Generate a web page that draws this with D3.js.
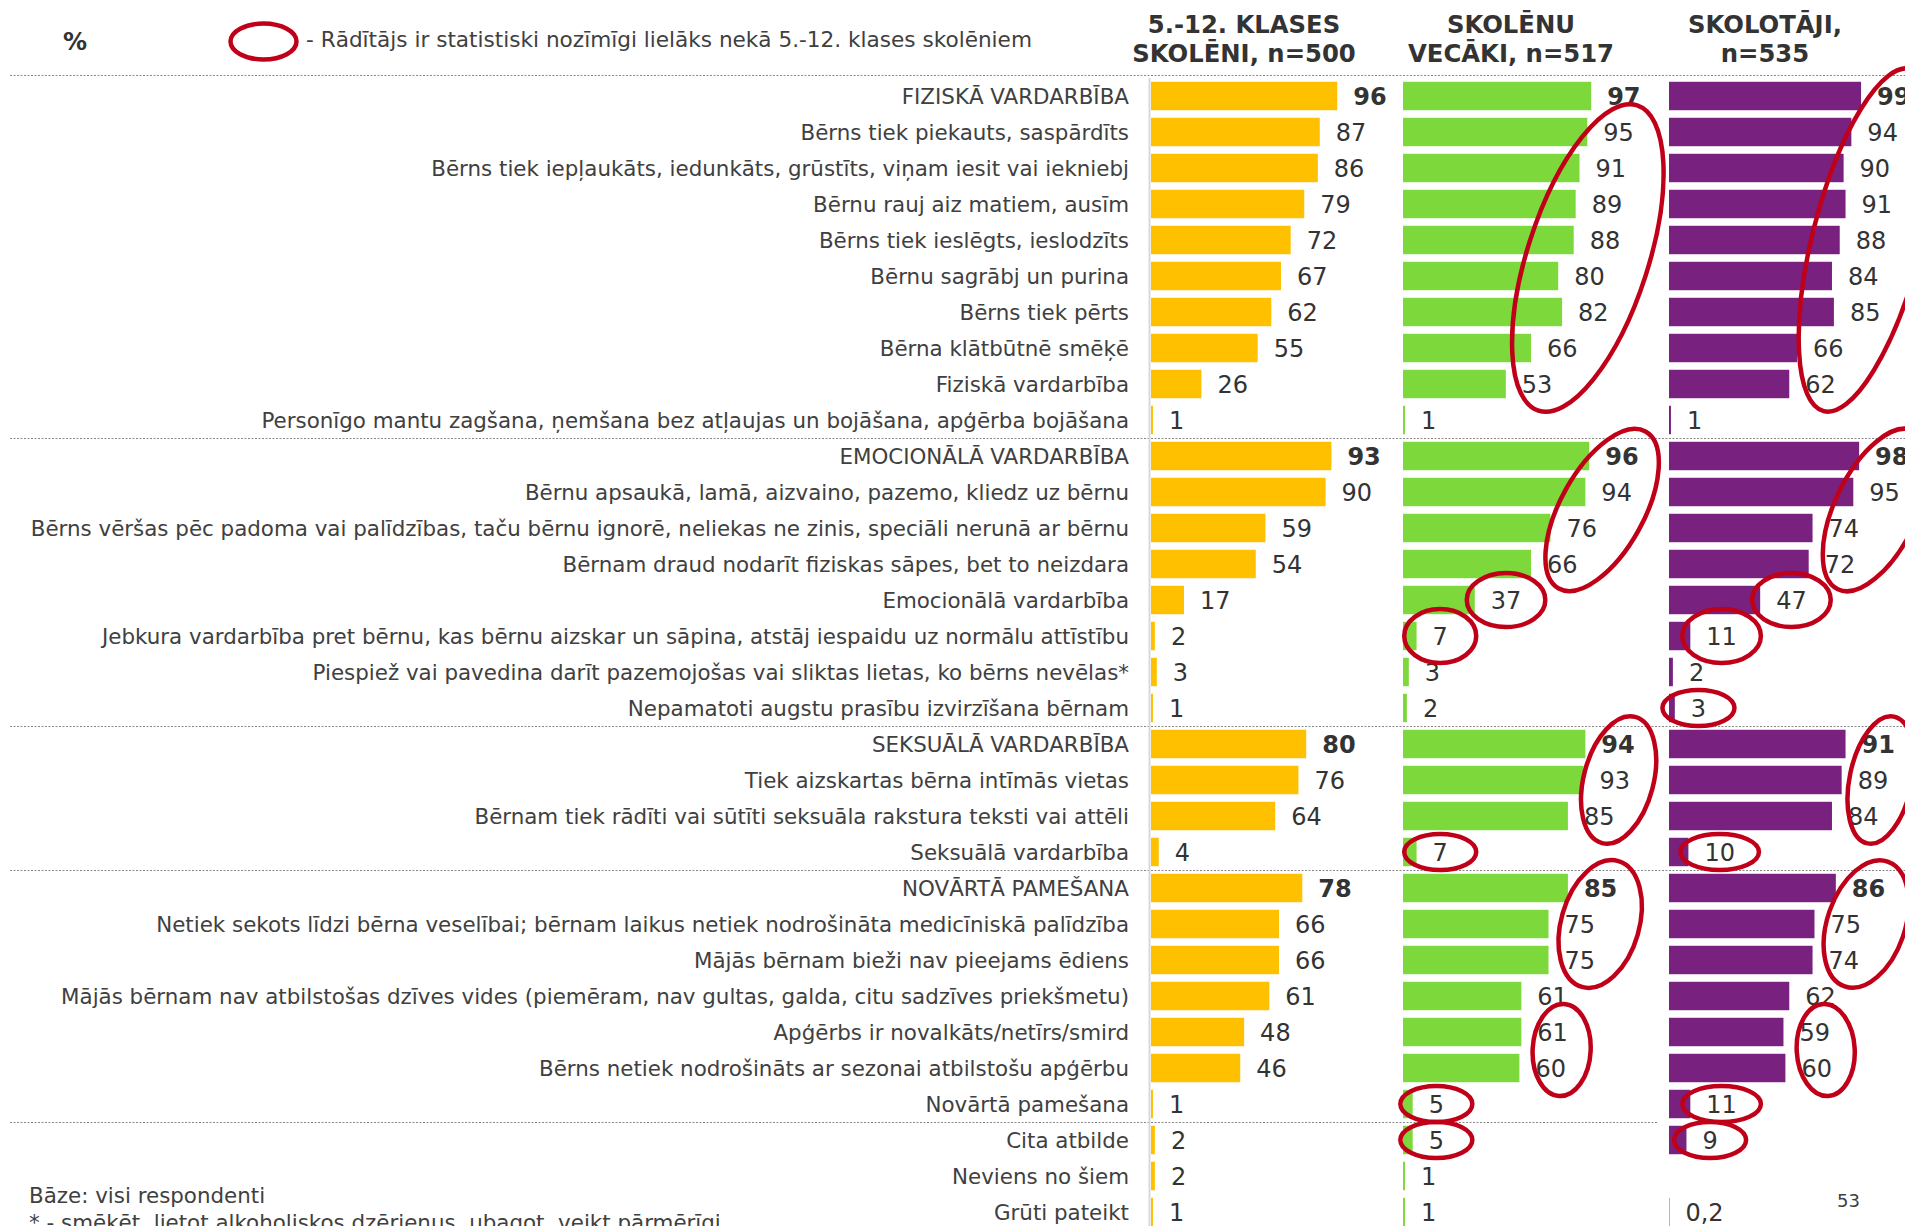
<!DOCTYPE html>
<html>
<head>
<meta charset="utf-8">
<script src="https://d3js.org/d3.v7.min.js"></script>
<style>
body { margin: 0; background: #fff; }
svg text { font-family: "DejaVu Sans", Verdana, sans-serif; }
</style>
</head>
<body>
<div id="chart"></div>
<script>
var categories = [
	"FIZISKĀ VARDARBĪBA",
	"Bērns tiek piekauts, saspārdīts",
	"Bērns tiek iepļaukāts, iedunkāts, grūstīts, viņam iesit vai iekniebj",
	"Bērnu rauj aiz matiem, ausīm",
	"Bērns tiek ieslēgts, ieslodzīts",
	"Bērnu sagrābj un purina",
	"Bērns tiek pērts",
	"Bērna klātbūtnē smēķē",
	"Fiziskā vardarbība",
	"Personīgo mantu zagšana, ņemšana bez atļaujas un bojāšana, apģērba bojāšana",
	"EMOCIONĀLĀ VARDARBĪBA",
	"Bērnu apsaukā, lamā, aizvaino, pazemo, kliedz uz bērnu",
	"Bērns vēršas pēc padoma vai palīdzības, taču bērnu ignorē, neliekas ne zinis, speciāli nerunā ar bērnu",
	"Bērnam draud nodarīt fiziskas sāpes, bet to neizdara",
	"Emocionālā vardarbība",
	"Jebkura vardarbība pret bērnu, kas bērnu aizskar un sāpina, atstāj iespaidu uz normālu attīstību",
	"Piespiež vai pavedina darīt pazemojošas vai sliktas lietas, ko bērns nevēlas*",
	"Nepamatoti augstu prasību izvirzīšana bērnam",
	"SEKSUĀLĀ VARDARBĪBA",
	"Tiek aizskartas bērna intīmās vietas",
	"Bērnam tiek rādīti vai sūtīti seksuāla rakstura teksti vai attēli",
	"Seksuālā vardarbība",
	"NOVĀRTĀ PAMEŠANA",
	"Netiek sekots līdzi bērna veselībai; bērnam laikus netiek nodrošināta medicīniskā palīdzība",
	"Mājās bērnam bieži nav pieejams ēdiens",
	"Mājās bērnam nav atbilstošas dzīves vides (piemēram, nav gultas, galda, citu sadzīves priekšmetu)",
	"Apģērbs ir novalkāts/netīrs/smird",
	"Bērns netiek nodrošināts ar sezonai atbilstošu apģērbu",
	"Novārtā pamešana",
	"Cita atbilde",
	"Neviens no šiem",
	"Grūti pateikt"
];
var header_rows = [0, 10, 18, 22];
var group_ends = [9, 17, 21, 28];

var series_titles = [
	["5.-12. KLASES", "SKOLĒNI, n=500"],
	["SKOLĒNU", "VECĀKI, n=517"],
	["SKOLOTĀJI,", "n=535"]
];

var pupils   = [96, 87, 86, 79, 72, 67, 62, 55, 26, 1,  93, 90, 59, 54, 17, 2, 3, 1,  80, 76, 64, 4,  78, 66, 66, 61, 48, 46, 1,  2, 2, 1];
var parents  = [97, 95, 91, 89, 88, 80, 82, 66, 53, 1,  96, 94, 76, 66, 37, 7, 3, 2,  94, 93, 85, 7,  85, 75, 75, 61, 61, 60, 5,  5, 1, 1];
var teachers = [99, 94, 90, 91, 88, 84, 85, 66, 62, 1,  98, 95, 74, 72, 47, 11, 2, 3,  91, 89, 84, 10,  86, 75, 74, 62, 59, 60, 11,  9, null, 0.2];

// rows whose value is significantly higher than pupils' (first row, last row, kind)
var parents_marks = [[1, 8], [10, 13], [14, 14, "round"], [15, 15, "round"], [18, 20], [21, 21, "flat"],
	[22, 24], [26, 27], [28, 28, "flat"], [29, 29, "flat"]];
var teachers_marks = [[0, 8], [10, 13], [14, 14, "round"], [15, 15, "round"], [17, 17, "flat"], [18, 20],
	[21, 21, "flat"], [22, 24], [26, 27], [28, 28, "flat"], [29, 29, "flat"]];

var legend_text = "- Rādītājs ir statistiski nozīmīgi lielāks nekā 5.-12. klases skolēniem";
var footer_lines = ["Bāze: visi respondenti", "* - smēķēt, lietot alkoholiskos dzērienus, ubagot, veikt pārmērīgi"];
var page_number = "53";

var width = 1905, height = 1226;
var text_colour = "#404040", ring_colour = "#C00018";

var svg = d3.select("#chart").append("svg")
	.attr("width", width)
	.attr("height", height);

var y = d3.scaleBand()
	.domain(d3.range(categories.length))
	.range([78, 1230])
	.paddingInner(0.21)
	.paddingOuter(0.105);
var gap = (y.step() - y.bandwidth()) / 2;

var series = [
	{values: pupils,   colour: "#FFC000", x: d3.scaleLinear().domain([0, 100]).range([1151, 1345]), title_x: 1244, marks: []},
	{values: parents,  colour: "#7CD83B", x: d3.scaleLinear().domain([0, 100]).range([1403, 1597]), title_x: 1511, marks: parents_marks},
	{values: teachers, colour: "#78217F", x: d3.scaleLinear().domain([0, 100]).range([1669, 1863]), title_x: 1765, marks: teachers_marks}
];

// top legend
svg.append("text")
	.attr("x", 63).attr("y", 50)
	.attr("font-size", 24).attr("font-weight", "bold")
	.attr("fill", "#333")
	.text("%");
svg.append("ellipse")
	.attr("cx", 263.5).attr("cy", 41.5).attr("rx", 33).attr("ry", 18)
	.attr("fill", "none").attr("stroke", ring_colour).attr("stroke-width", 4.5);
svg.append("text")
	.attr("x", 306).attr("y", 47)
	.attr("font-size", 21.6).attr("fill", text_colour)
	.text(legend_text);

// column titles
series.forEach(function(s, i){
	series_titles[i].forEach(function(line, j){
		svg.append("text")
			.attr("x", s.title_x).attr("y", 33 + j * 28.5)
			.attr("text-anchor", "middle")
			.attr("font-size", 24.3).attr("font-weight", "bold")
			.attr("fill", "#333")
			.text(line);
	});
});

// dotted separators
svg.append("line")
	.attr("x1", 10).attr("x2", width).attr("y1", 75.5).attr("y2", 75.5)
	.attr("stroke", "#888").attr("stroke-dasharray", "2,1.5");
group_ends.forEach(function(r, i){
	var yy = Math.round(y(r) + y.bandwidth() + gap) + 0.5;
	svg.append("line")
		.attr("x1", 10).attr("x2", i == group_ends.length - 1 ? 1658 : width)
		.attr("y1", yy).attr("y2", yy)
		.attr("stroke", "#888").attr("stroke-dasharray", "2,1.5");
});

// axis line of the first column
svg.append("line")
	.attr("x1", series[0].x(0) - 1.5).attr("x2", series[0].x(0) - 1.5)
	.attr("y1", 78).attr("y2", height)
	.attr("stroke", "#d9d9d9").attr("stroke-width", 2);

// category labels
svg.selectAll("text.cat")
	.data(categories)
	.enter().append("text")
	.attr("class", "cat")
	.attr("x", 1129)
	.attr("y", function(d, i){ return y(i) + y.bandwidth() / 2; })
	.attr("dy", "0.36em")
	.attr("text-anchor", "end")
	.attr("font-size", 21.4)
	.attr("fill", text_colour)
	.text(function(d){ return d; });

// bars and values
series.forEach(function(s){
	s.labels = [];
	s.values.forEach(function(v, i){
		if (v == null) return;
		svg.append("rect")
			.attr("x", s.x(0))
			.attr("y", y(i))
			.attr("width", s.x(v) - s.x(0))
			.attr("height", y.bandwidth())
			.attr("fill", s.colour);
		var t = svg.append("text")
			.attr("x", s.x(v) + 16)
			.attr("y", y(i) + y.bandwidth() / 2)
			.attr("dy", "0.36em")
			.attr("font-size", 24)
			.attr("font-weight", header_rows.indexOf(i) != -1 ? "bold" : "normal")
			.attr("fill", "#333")
			.text(String(v).replace(".", ","));
		s.labels[i] = t.node();
	});
});

// significance rings
function labelCentre(s, i){
	var node = s.labels[i];
	var w = node.getComputedTextLength();
	return {x: +node.getAttribute("x") + w / 2, y: y(i) + y.bandwidth() / 2, w: w};
}

series.forEach(function(s){
	s.marks.forEach(function(m){
		var a = labelCentre(s, m[0]), b = labelCentre(s, m[1]);
		var cx, cy, rx, ry, angle = 0;
		if (m[0] == m[1]){
			cx = a.x; cy = a.y;
			rx = Math.max(36, a.w / 2 + 24);
			ry = m[2] == "round" ? 27 : 18;
		}
		else {
			var dx = b.x - a.x, dy = b.y - a.y, len = Math.sqrt(dx * dx + dy * dy);
			var nx = -dy / len, ny = dx / len, perp = 0;
			for (var r = m[0]; r <= m[1]; r++){
				var c = labelCentre(s, r);
				perp = Math.max(perp, Math.abs((c.x - a.x) * nx + (c.y - a.y) * ny));
			}
			cx = (a.x + b.x) / 2 + 10; cy = (a.y + b.y) / 2;
			rx = len / 2 + 28;
			ry = perp + 29;
			angle = Math.atan2(dy, dx) * 180 / Math.PI;
		}
		svg.append("ellipse")
			.attr("cx", 0).attr("cy", 0).attr("rx", rx).attr("ry", ry)
			.attr("transform", "translate(" + cx + "," + cy + ") rotate(" + angle + ")")
			.attr("fill", "none")
			.attr("stroke", ring_colour)
			.attr("stroke-width", 4.5);
	});
});

// footer
footer_lines.forEach(function(line, i){
	svg.append("text")
		.attr("x", 29).attr("y", 1203 + i * 27)
		.attr("font-size", 21.4).attr("fill", text_colour)
		.text(line);
});
svg.append("text")
	.attr("x", 1837).attr("y", 1207)
	.attr("font-size", 18).attr("fill", text_colour)
	.text(page_number);
</script>
</body>
</html>
